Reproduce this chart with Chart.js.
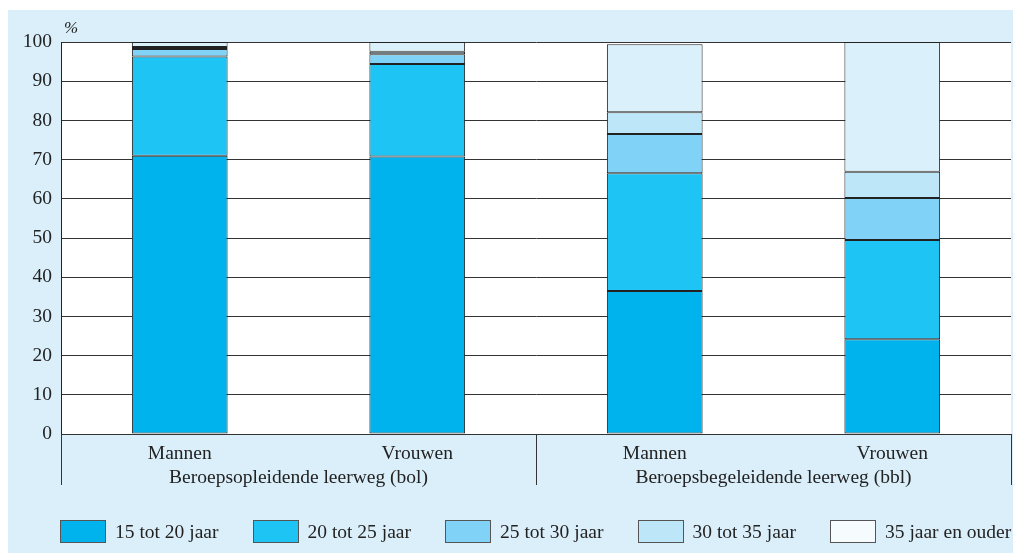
<!DOCTYPE html>
<html>
<head>
<meta charset="utf-8">
<script src="https://cdn.jsdelivr.net/npm/chart.js@4/dist/chart.umd.min.js"></script>
<style>
    body { margin: 0; background: #fff; }
    #wrap { position: relative; width: 1013px; height: 553px; }
    #legend {
        position: absolute; left: 60px; top: 520px;
        display: grid; grid-template-columns: repeat(5, 192.5px);
        font-family: "Liberation Serif", serif; font-size: 19.5px; color: #222;
    }
    .item { display: flex; align-items: center; height: 23px; }
    .sw { width: 46px; height: 23px; box-sizing: border-box; border: 1px solid #555; margin-right: 9px; }
</style>
</head>
<body>
<div id="wrap">
    <canvas id="chart" width="1013" height="553"></canvas>
    <div id="legend"></div>
</div>
<script>
// Data (percentages, stacked to ~100)
const categories = ['Mannen', 'Vrouwen', 'Mannen', 'Vrouwen'];
const groups = ['Beroepsopleidende leerweg (bol)', 'Beroepsbegeleidende leerweg (bbl)'];
const seriesNames = ['15 tot 20 jaar', '20 tot 25 jaar', '25 tot 30 jaar', '30 tot 35 jaar', '35 jaar en ouder'];

const age15to20 = [71.0, 70.8, 36.5, 24.2];
const age20to25 = [25.3, 23.6, 30.0, 25.3];
const age25to30 = [1.9, 2.5, 10.0, 10.7];
const age30to35 = [0.5, 0.6, 5.6, 6.7];
const age35plus = [1.3, 2.5, 17.3, 33.1];

const yTicks = [0, 10, 20, 30, 40, 50, 60, 70, 80, 90, 100];

const barColors = ['#00b3ec', '#1ec4f4', '#80d3f6', '#bde6f9', '#daf0fb'];
const legendColors = ['#00b3ec', '#1ec4f4', '#80d3f6', '#bde6f9', '#f6fbfe'];

const FONT = '"Liberation Serif", serif';
const TEXT = '#222';

const seriesData = [age15to20, age20to25, age25to30, age30to35, age35plus];

// Background panel, white plot area, group labels and dividers under the axis
const framePlugin = {
    id: 'frame',
    beforeDraw(chart) {
        const { ctx, chartArea: a } = chart;
        ctx.save();
        ctx.fillStyle = '#dbeffa';
        ctx.fillRect(8, 10, chart.width - 8, chart.height - 10);
        ctx.fillStyle = '#fff';
        ctx.fillRect(a.left, a.top, a.right - a.left, a.bottom - a.top);
        ctx.restore();
    },
    afterDraw(chart) {
        const { ctx, chartArea: a } = chart;
        const x = chart.scales.x;
        const p = i => x.getPixelForValue(i);
        ctx.save();
        ctx.strokeStyle = '#333';
        ctx.lineWidth = 1;
        const divider = (p(1) + p(2)) / 2;
        [a.left, divider, a.right].forEach(px => {
            const xx = Math.round(px) + 0.5;
            ctx.beginPath();
            ctx.moveTo(xx, a.bottom);
            ctx.lineTo(xx, a.bottom + 51);
            ctx.stroke();
        });
        ctx.fillStyle = TEXT;
        ctx.font = '19.5px ' + FONT;
        ctx.textAlign = 'center';
        ctx.textBaseline = 'middle';
        ctx.fillText(groups[0], (p(0) + p(1)) / 2, a.bottom + 44);
        ctx.fillText(groups[1], (p(2) + p(3)) / 2, a.bottom + 44);
        ctx.font = 'italic 17px ' + FONT;
        ctx.textAlign = 'left';
        ctx.fillText('%', a.left + 3, a.top - 13);
        ctx.restore();
    }
};

new Chart(document.getElementById('chart').getContext('2d'), {
    type: 'bar',
    data: {
        labels: categories,
        datasets: seriesNames.map((name, i) => ({
            label: name,
            data: seriesData[i],
            backgroundColor: barColors[i],
            borderColor: '#222',
            borderWidth: 1,
            borderSkipped: false,
            categoryPercentage: 1,
            barPercentage: 0.403
        }))
    },
    options: {
        responsive: false,
        animation: false,
        layout: { padding: { top: 42, right: 2, left: 0, bottom: 0 } },
        plugins: {
            legend: { display: false },
            tooltip: { enabled: false }
        },
        scales: {
            x: {
                stacked: true,
                grid: { display: false },
                border: { display: false },
                ticks: { color: TEXT, font: { family: FONT, size: 19.5 }, padding: 0 },
                afterFit: s => { s.height = 119; }
            },
            y: {
                stacked: true,
                min: 0,
                max: 100,
                afterBuildTicks: s => { s.ticks = yTicks.map(v => ({ value: v })); },
                grid: { color: '#333', lineWidth: 1, drawTicks: false },
                border: { display: true, color: '#222', width: 1 },
                ticks: { color: TEXT, font: { family: FONT, size: 19.5 }, padding: 9 },
                afterFit: s => { s.width = 61; }
            }
        }
    },
    plugins: [framePlugin]
});

// Legend row
const legend = document.getElementById('legend');
seriesNames.forEach((name, i) => {
    const item = document.createElement('div');
    item.className = 'item';
    item.innerHTML = `<span class="sw" style="background:${legendColors[i]}"></span><span>${name}</span>`;
    legend.appendChild(item);
});
</script>
</body>
</html>
